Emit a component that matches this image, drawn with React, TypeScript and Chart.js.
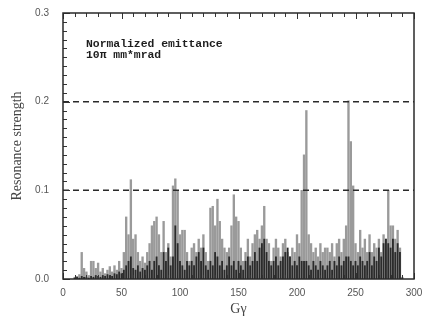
import React, { useEffect, useRef } from "react";
import { Chart, registerables } from "chart.js";

Chart.register(...registerables);

const gammaPositions: number[] = [
  10, 12, 14, 16, 18, 20, 22, 24, 26, 28,
  30, 32, 34, 36, 38, 40, 42, 44, 46, 48,
  50, 52, 54, 56, 58, 60, 62, 64, 66, 68,
  70, 72, 74, 76, 78, 80, 82, 84, 86, 88,
  90, 92, 94, 96, 98, 100, 102, 104, 106, 108,
  110, 112, 114, 116, 118, 120, 122, 124, 126, 128,
  130, 132, 134, 136, 138, 140, 142, 144, 146, 148,
  150, 152, 154, 156, 158, 160, 162, 164, 166, 168,
  170, 172, 174, 176, 178, 180, 182, 184, 186, 188,
  190, 192, 194, 196, 198, 200, 202, 204, 206, 208,
  210, 212, 214, 216, 218, 220, 222, 224, 226, 228,
  230, 232, 234, 236, 238, 240, 242, 244, 246, 248,
  250, 252, 254, 256, 258, 260, 262, 264, 266, 268,
  270, 272, 274, 276, 278, 280, 282, 284, 286, 288,
  290,
];

const grayStrength: number[] = [
  0.002, 0.003, 0.005, 0.03, 0.012, 0.008, 0.004, 0.02, 0.02, 0.012,
  0.018, 0.008, 0.012, 0.006, 0.01, 0.014, 0.008, 0.015, 0.01, 0.02,
  0.012, 0.03, 0.07, 0.05, 0.112, 0.045, 0.05, 0.03, 0.02, 0.025,
  0.018, 0.03, 0.04, 0.06, 0.065, 0.07, 0.05, 0.03, 0.065, 0.03,
  0.04, 0.025, 0.105, 0.113, 0.1, 0.05, 0.055, 0.055, 0.03, 0.02,
  0.035, 0.04, 0.03, 0.045, 0.035, 0.05, 0.03, 0.02, 0.08, 0.082,
  0.06, 0.09, 0.065, 0.045, 0.035, 0.03, 0.035, 0.06, 0.095, 0.07,
  0.065, 0.035, 0.02, 0.03, 0.045, 0.025, 0.04, 0.05, 0.055, 0.045,
  0.06, 0.082, 0.045, 0.04, 0.02, 0.035, 0.045, 0.035, 0.025, 0.04,
  0.045, 0.03, 0.025, 0.035, 0.03, 0.05, 0.04, 0.1, 0.14, 0.19,
  0.05, 0.04, 0.03, 0.035, 0.025, 0.04, 0.03, 0.035, 0.035, 0.03,
  0.04, 0.025, 0.04, 0.045, 0.03, 0.045, 0.06, 0.201, 0.155, 0.105,
  0.04, 0.03, 0.055, 0.035, 0.045, 0.03, 0.05, 0.03, 0.04, 0.035,
  0.045, 0.03, 0.05, 0.045, 0.1, 0.06, 0.06, 0.045, 0.055, 0.035,
  0.002,
];

const darkStrength: number[] = [
  0.001, 0.002, 0.001, 0.003, 0.002, 0.002, 0.001, 0.003, 0.002, 0.004,
  0.003, 0.002, 0.004, 0.003, 0.005, 0.004, 0.003, 0.006, 0.005, 0.008,
  0.006, 0.01, 0.015, 0.02, 0.025, 0.012, 0.01, 0.015, 0.008, 0.012,
  0.01, 0.015, 0.02, 0.01, 0.02, 0.025, 0.015, 0.01, 0.03, 0.02,
  0.035, 0.015, 0.025, 0.06, 0.04, 0.02, 0.015, 0.01, 0.02, 0.015,
  0.02, 0.015, 0.025, 0.03, 0.02, 0.035, 0.015, 0.01, 0.02, 0.015,
  0.03, 0.025, 0.015, 0.02, 0.01, 0.015, 0.025, 0.015, 0.02, 0.01,
  0.02, 0.015, 0.01, 0.02, 0.025, 0.015, 0.02, 0.03, 0.02, 0.035,
  0.04, 0.045, 0.03, 0.02, 0.015, 0.02, 0.025, 0.015, 0.02, 0.025,
  0.03, 0.035, 0.025, 0.015, 0.02, 0.015, 0.025, 0.02, 0.02, 0.02,
  0.015, 0.01, 0.02, 0.015, 0.01, 0.02, 0.015, 0.01, 0.015, 0.02,
  0.01, 0.02, 0.015, 0.025, 0.015, 0.02, 0.025, 0.025, 0.02, 0.015,
  0.02, 0.015, 0.025, 0.02, 0.015, 0.02, 0.03, 0.015, 0.025, 0.02,
  0.035, 0.025, 0.04, 0.045, 0.04, 0.035, 0.045, 0.03, 0.04, 0.03,
  0.001,
];

const thresholdLevels: number[] = [0.2, 0.1];
const xTickValues: number[] = [0, 50, 100, 150, 200, 250, 300];
const annotationLines: string[] = ["Normalized emittance", "10\u03c0 mm*mrad"];

const framePlugin = {
  id: "frameAndTicks",
  afterDatasetsDraw(chart: any) {
    const { ctx, chartArea, scales } = chart;
    const { left, right, top, bottom } = chartArea;
    const xs = scales.x;
    const ys = scales.y;
    ctx.save();
    ctx.strokeStyle = "#333";
    ctx.lineWidth = 1;
    for (let v = 0; v <= 0.3001; v += 0.01) {
      const y = Math.round(ys.getPixelForValue(v)) + 0.5;
      const major = Math.abs(v * 10 - Math.round(v * 10)) < 1e-6;
      ctx.beginPath();
      ctx.moveTo(left, y);
      ctx.lineTo(left + (major ? 7 : 4), y);
      ctx.stroke();
    }
    for (let g = 0; g <= 300; g += 10) {
      if (g > xs.max) break;
      const x = Math.round(xs.getPixelForValue(g)) + 0.5;
      const major = g % 50 === 0;
      ctx.beginPath();
      ctx.moveTo(x, top);
      ctx.lineTo(x, top + (major ? 6 : 4));
      ctx.moveTo(x, bottom);
      ctx.lineTo(x, bottom - (major ? 6 : 4));
      ctx.stroke();
    }
    ctx.lineWidth = 1.5;
    ctx.strokeStyle = "#2a2a2a";
    ctx.strokeRect(left, top, right - left, bottom - top);
    ctx.fillStyle = "#1e1e1e";
    ctx.font = "bold 11.4px 'Liberation Mono', monospace";
    ctx.textBaseline = "alphabetic";
    ctx.textAlign = "left";
    ctx.fillText(annotationLines[0], 86, 47);
    ctx.fillText(annotationLines[1], 86, 58);
    ctx.restore();
  },
};

export default function App() {
  const canvasRef = useRef<HTMLCanvasElement | null>(null);

  useEffect(() => {
    const canvas = canvasRef.current;
    if (!canvas) return;

    const grayData = gammaPositions.map((g, i) => ({ x: g, y: grayStrength[i] }));
    const darkData = gammaPositions.map((g, i) => ({ x: g, y: darkStrength[i] }));

    const thresholdSets = thresholdLevels.map((lvl) => ({
      type: "line" as const,
      data: [
        { x: 0, y: lvl },
        { x: 300, y: lvl },
      ],
      borderColor: "#2a2a2a",
      borderWidth: 1.5,
      borderDash: [6, 4],
      pointRadius: 0,
      fill: false,
      order: -1,
    }));

    const chart = new Chart(canvas, {
      type: "bar",
      data: {
        datasets: [
          ...thresholdSets,
          {
            type: "bar" as const,
            data: darkData,
            backgroundColor: "#2b2b2b",
            barThickness: 1.2,
            grouped: false,
            order: 0,
          },
          {
            type: "bar" as const,
            data: grayData,
            backgroundColor: "#9a9a9a",
            borderWidth: 0,
            barThickness: 1.7,
            grouped: false,
            order: 1,
          },
        ] as any,
      },
      options: {
        responsive: false,
        animation: false,
        layout: { padding: { top: 13, right: 8, left: 0, bottom: 0 } },
        plugins: {
          legend: { display: false },
          tooltip: { enabled: false },
        },
        scales: {
          x: {
            type: "linear",
            min: 0,
            max: 300,
            offset: false,
            afterFit: (scale: any) => {
              scale.height = 41;
              scale.paddingLeft = 0;
              scale.paddingRight = 0;
            },
            afterBuildTicks: (scale: any) => {
              scale.ticks = xTickValues.map((v) => ({ value: v }));
            },
            grid: { display: false, drawTicks: false, offset: false },
            border: { display: false },
            ticks: {
              autoSkip: false,
              maxRotation: 0,
              padding: 8,
              color: "#555",
              font: { family: "'Liberation Sans', Arial, sans-serif", size: 10 },
            },
            title: {
              display: true,
              text: "G\u03b3",
              color: "#444",
              font: { family: "'Liberation Serif', 'Times New Roman', serif", size: 14 },
              padding: { top: 0, bottom: 2 },
            },
          },
          y: {
            type: "linear",
            min: 0,
            max: 0.3,
            afterFit: (scale: any) => {
              scale.width = 63;
              scale.paddingTop = 0;
              scale.paddingBottom = 0;
            },
            grid: { display: false, drawTicks: false },
            border: { display: false },
            ticks: {
              stepSize: 0.1,
              padding: 14,
              color: "#555",
              font: { family: "'Liberation Sans', Arial, sans-serif", size: 10 },
              callback: (v: any) => Number(v).toFixed(1),
            },
            title: {
              display: true,
              text: "Resonance strength",
              color: "#444",
              font: { family: "'Liberation Serif', 'Times New Roman', serif", size: 14 },
              padding: { top: 9, bottom: 0 },
            },
          },
        },
      },
      plugins: [framePlugin],
    });

    return () => {
      chart.destroy();
    };
  }, []);

  return (
    <div
      style={{
        position: "fixed",
        left: 0,
        top: 0,
        width: 422,
        height: 320,
        background: "#ffffff",
      }}
    >
      <canvas ref={canvasRef} width={422} height={320} />
    </div>
  );
}
